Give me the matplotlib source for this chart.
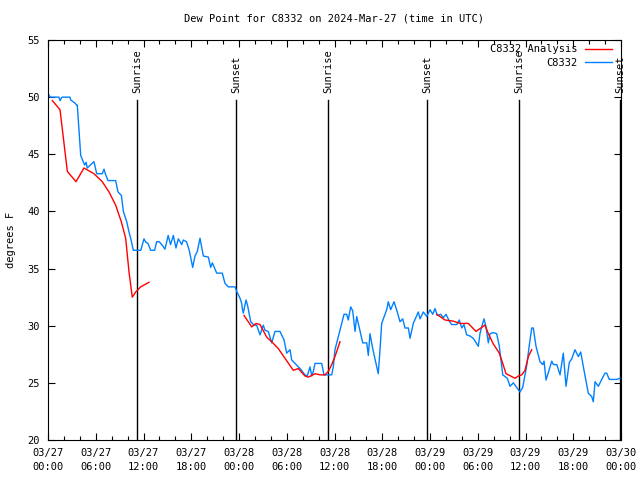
import numpy as np
import matplotlib
matplotlib.use("Agg")
import matplotlib.pyplot as plt

plt.rcParams['font.family'] = ['DejaVu Sans Mono']
FS = 7.5

# hours since 03/27 00:00 UTC
obs_hours = [0.0, 0.3, 1.38, 1.51, 1.76, 2.76, 2.85, 3.36, 3.61, 3.68, 4.11, 4.43, 4.6, 4.78, 4.94,
             5.37, 5.78, 6.12, 6.82, 7.04, 7.2, 7.54, 8.5, 8.8, 9.22, 9.47, 9.89, 10.18, 10.39, 10.72,
             11.66, 12.06, 12.3, 12.56, 12.9, 13.4, 13.65, 13.98, 14.4, 14.7, 15.1, 15.4, 15.75, 16.08,
             16.37, 16.8, 17.0, 17.4, 17.75, 18.18, 18.47, 18.76, 19.1, 19.52, 20.15, 20.44, 20.65,
             21.2, 21.9, 22.24, 22.66, 23.5, 23.71, 24.13, 24.34, 24.42, 24.54, 24.88, 25.07, 25.47,
             25.89, 26.22, 26.64, 27.05, 27.27, 27.68, 28.11, 28.52, 29.15, 29.66, 29.99, 30.41, 30.62,
             31.04, 31.67, 32.29, 32.58, 32.92, 33.14, 33.34, 33.55, 34.39, 34.68, 35.65, 35.85, 36.06,
             36.69, 37.2, 37.53, 37.73, 38.04, 38.29, 38.58, 38.79, 39.12, 39.55, 40.05, 40.25, 40.46,
             40.8, 41.5, 41.72, 41.93, 42.56, 42.76, 43.06, 43.48, 43.89, 44.23, 44.57, 44.86, 45.28,
             45.49, 45.9, 46.53, 46.75, 47.16, 47.59, 48.0, 48.34, 48.63, 48.92, 49.35, 49.67, 50.01,
             50.43, 50.73, 51.36, 51.68, 51.99, 52.27, 52.61, 53.03, 53.44, 54.07, 54.28, 54.5, 54.79,
             55.04, 55.33, 55.54, 55.96, 56.38, 56.71, 57.14, 57.72, 58.05, 58.47, 59.1, 59.31, 59.65,
             60.15, 60.48, 60.78, 60.98, 61.32, 61.82, 62.16, 62.33, 62.58, 62.87, 63.3, 63.5, 63.93,
             64.34, 64.75, 65.09, 65.51, 65.81, 66.22, 66.64, 66.94, 67.35, 67.89, 68.32, 68.52, 68.74,
             69.15, 69.58, 69.99, 70.2, 70.53, 71.46, 71.88]
obs_values = [50.3, 50.0, 50.0, 49.7, 50.0, 50.0, 49.75, 49.5, 49.3, 49.3, 44.9, 44.35, 44.06, 44.3, 43.8,
              44.1, 44.35, 43.3, 43.3, 43.7, 43.3, 42.7, 42.7, 41.7, 41.4, 40.0, 39.1, 38.2, 37.65, 36.6,
              36.6, 37.6, 37.3, 37.2, 36.6, 36.6, 37.35, 37.35, 37.0, 36.7, 37.9, 37.1, 37.9, 36.8,
              37.6, 37.1, 37.5, 37.35, 36.6, 35.1, 36.1, 36.5, 37.65, 36.1, 36.0, 35.1, 35.5,
              34.6, 34.6, 33.7, 33.4, 33.4, 33.0, 32.4, 31.95, 31.5, 31.1, 32.25, 31.8, 30.35,
              30.05, 30.05, 29.2, 30.05, 29.6, 29.5, 28.5, 29.5, 29.5, 28.75, 27.6, 27.9, 27.0,
              26.7, 26.25, 25.7, 25.6, 26.4, 25.6, 26.0, 26.7, 26.7, 25.7, 25.7, 26.4, 27.9,
              29.6, 31.0, 31.0, 30.5, 31.65, 31.3, 29.5, 30.8, 29.8, 28.5, 28.5, 27.4, 29.3,
              28.0, 25.8, 27.9, 30.2, 31.4, 32.1, 31.4, 32.1, 31.2, 30.35, 30.6, 29.8, 29.8,
              28.9, 30.2, 31.2, 30.6, 31.2, 30.8, 31.4, 31.0, 31.5, 30.9, 31.0, 30.7, 31.0,
              30.4, 30.1, 30.1, 30.5, 29.8, 30.1, 29.2, 29.1, 28.9, 28.2, 29.3, 29.9, 30.6,
              29.9, 28.5, 29.3, 29.4, 29.3, 28.2, 25.7, 25.4, 24.7, 25.0, 24.4, 24.2, 24.6,
              26.5, 28.3, 29.8, 29.8, 28.2, 26.85, 26.6, 26.9, 25.25, 25.9, 26.9, 26.6, 26.6,
              25.7, 27.6, 24.7, 26.8, 27.1, 27.9, 27.3, 27.7, 26.1, 24.1, 23.8, 23.35, 25.1,
              24.7, 25.3, 25.85, 25.85, 25.3, 25.3, 25.4]

ana_hours = [0.54, 1.51, 1.92, 2.43, 3.52, 4.52, 5.78, 6.82, 7.67, 8.5, 9.21, 9.76, 10.18, 10.59,
             11.02, 11.65, 12.69, np.nan,
             24.63, 25.6, 26.14, 26.64, 27.48, 28.11, 28.94, 29.78, 30.82, 31.45, 32.29, 32.71,
             33.55, 34.18, 34.81, 35.22, 35.65, 36.06, 36.69, np.nan,
             48.84, 49.89, 50.93, 51.77, 52.81, 53.78, 54.91, 55.33, 55.96, 56.71, 57.14, 57.55,
             58.27, 58.68, 59.1, 59.53, 59.94, 60.36, 60.78]
ana_values = [49.7, 48.9, 46.5, 43.5, 42.6, 43.8, 43.3, 42.6, 41.7, 40.55, 39.1, 37.65, 34.7, 32.5,
              32.95, 33.4, 33.8, np.nan,
              30.9, 29.9, 30.2, 30.1, 29.0, 28.6, 28.0, 27.15, 26.1, 26.25, 25.6, 25.5,
              25.8, 25.7, 25.7, 26.0, 26.6, 27.3, 28.6, np.nan,
              31.0, 30.5, 30.4, 30.2, 30.2, 29.5, 30.06, 29.3, 28.4, 27.6, 26.7, 25.8,
              25.55, 25.4, 25.6, 25.7, 26.1, 27.3, 27.9]

sun_hours = [11.18, 23.6, 35.2, 47.63, 59.2, 71.85]
sun_labels = ["Sunrise", "Sunset", "Sunrise", "Sunset", "Sunrise", "Sunset"]

xtick_hours = list(range(0, 73, 6))
xtick_labels = ["03/27\n00:00", "03/27\n06:00", "03/27\n12:00", "03/27\n18:00",
                "03/28\n00:00", "03/28\n06:00", "03/28\n12:00", "03/28\n18:00",
                "03/29\n00:00", "03/29\n06:00", "03/29\n12:00", "03/29\n18:00",
                "03/30\n00:00"]
ytick_vals = [20, 25, 30, 35, 40, 45, 50, 55]

fig = plt.figure(figsize=(6.4, 4.8), dpi=100)
ax = fig.add_axes([48/640, 40/480, (621-48)/640, 400/480])

ax.plot(ana_hours, ana_values, color='#ff0000', lw=1, label='C8332 Analysis', zorder=3)
ax.plot(obs_hours, obs_values, color='#0080ff', lw=1, label='C8332', zorder=2)

for h, lab in zip(sun_hours, sun_labels):
    ax.plot([h, h], [20, 49.75], color='black', lw=1, zorder=1)
    ax.text(h, 50.4, lab, rotation=90, ha='center', va='bottom', fontsize=FS)

ax.set_xlim(0, 72)
ax.set_ylim(20, 55)
ax.set_xticks(xtick_hours)
ax.set_xticklabels(xtick_labels, fontsize=FS, linespacing=1.5)
ax.set_xticks(list(range(0, 73, 2)), minor=True)
ax.set_yticks(ytick_vals)
ax.set_yticklabels([str(v) for v in ytick_vals], fontsize=FS)
ax.tick_params(axis='both', which='major', direction='in', length=5, width=0.8,
               top=True, right=True, pad=6)
ax.tick_params(axis='both', which='minor', direction='in', length=3, width=0.8,
               top=True, right=True)
for s in ax.spines.values():
    s.set_linewidth(0.8)

ax.set_ylabel('degrees F', fontsize=FS, labelpad=8)
ax.set_title('Dew Point for C8332 on 2024-Mar-27 (time in UTC)', fontsize=FS, pad=13)

leg = ax.legend(loc='upper right', frameon=False, markerfirst=False, fontsize=FS,
                handlelength=2.6, borderaxespad=0.2, labelspacing=0.35, handletextpad=0.7,
                bbox_to_anchor=(0.995, 1.005))

fig.savefig('out.png', dpi=100)
